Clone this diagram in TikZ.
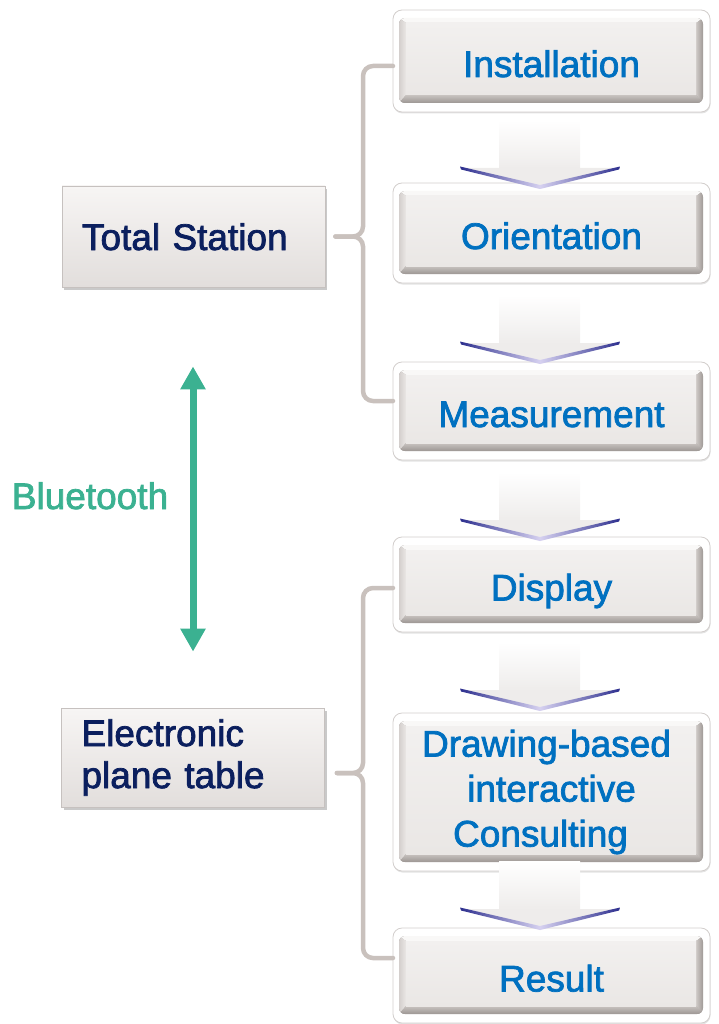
\documentclass[tikz,border=0pt]{standalone}
\usepackage{fontspec}
\setmainfont{Liberation Sans}[FakeBold=2]
\usetikzlibrary{arrows.meta,shadows,calc}
\definecolor{rtext}{HTML}{0070C0}
\definecolor{ltext}{HTML}{0B1F5E}
\definecolor{btgreen}{HTML}{3BB191}
\definecolor{brkgray}{HTML}{C9C1BD}
\definecolor{framegray}{HTML}{D2CECC}
\definecolor{lframe}{HTML}{C6C1BF}
\definecolor{ltop}{HTML}{F7F5F4}
\definecolor{lbot}{HTML}{E2DEDC}
\definecolor{bevTop}{HTML}{F9F8F7}
\definecolor{bevL1}{HTML}{D4CFCD}
\definecolor{bevL2}{HTML}{EAE7E5}
\definecolor{bevR1}{HTML}{CFCAC7}
\definecolor{bevR2}{HTML}{9F9996}
\definecolor{bevB1}{HTML}{C8C3C0}
\definecolor{bevB2}{HTML}{9C9693}
\definecolor{faceTop}{HTML}{F2F0EF}
\definecolor{faceBot}{HTML}{EAE7E5}
\definecolor{chevGray}{HTML}{EEECEB}
\definecolor{chevBlue}{HTML}{2D2F8E}
\definecolor{chevLav}{HTML}{D6D1F0}
\newcommand\panelbevel{%
  \coordinate (IA) at ($(path picture bounding box.south west)+(6pt,9pt)$);
  \coordinate (IB) at ($(path picture bounding box.north east)+(-7pt,-8pt)$);
  \coordinate (FA) at ($(IA)+(7pt,8pt)$);
  \coordinate (FB) at ($(IB)+(-7pt,-5pt)$);
  \begin{scope}[sharp corners]
    \clip[rounded corners=6pt] (IA) rectangle (IB);
    \fill[bevB2] (IA) rectangle (IB);
    \fill[bevTop] (IA |- IB) -- (IB) -- (FB) -- (FA |- FB) -- cycle;
    \shade[left color=bevL1, right color=bevL2] (IA) -- (IA |- IB) -- (FA |- FB) -- (FA) -- cycle;
    \shade[left color=bevR1, right color=bevR2] (IA -| IB) -- (IB) -- (FB) -- (FA -| FB) -- cycle;
    \shade[top color=bevB1, bottom color=bevB2] (IA) -- (IA -| IB) -- (FA -| FB) -- (FA) -- cycle;
    \shade[top color=faceTop, bottom color=faceBot] (FA) rectangle (FB);
  \end{scope}%
}
\tikzset{
  btn/.style={rectangle, rounded corners=9pt, draw=framegray, line width=0.8pt, fill=white,
    minimum width=317pt, inner sep=0pt, text=rtext, font=\fontsize{37}{42}\selectfont,
    drop shadow={shadow xshift=0.5pt, shadow yshift=-1.5pt, opacity=0.22},
    path picture={\panelbevel}},
  oneline/.style={text height=32pt, text depth=0pt},
  lbox/.style={rectangle, draw=lframe, line width=0.8pt, top color=ltop, bottom color=lbot,
    text width=223pt, align=left, inner xsep=20pt, inner ysep=0pt, text=ltext,
    font=\fontsize{37}{42}\selectfont,
    drop shadow={shadow xshift=2pt, shadow yshift=-3pt, opacity=0.3, fill=black!70}},
  brk/.style={draw=brkgray, line width=4.5pt, line cap=round, rounded corners=10pt},
  btarrow/.style={draw=btgreen, line width=7pt,
    {Triangle[width=24pt,length=23pt]}-{Triangle[width=24pt,length=23pt]}},
}
\begin{document}
\begin{tikzpicture}[x=1pt,y=-1pt]
\useasboundingbox (0,0) rectangle (718,1024);
% right column boxes
\node[btn, oneline, minimum height=102pt] (inst) at (551.5,61) {Installation};
\node[btn, oneline, minimum height=100pt] (orient) at (551.5,233) {Orientation};
\node[btn, oneline, minimum height=98pt] (meas) at (551.5,411) {Measurement};
\node[btn, oneline, minimum height=95pt] (disp) at (551.5,584.5) {Display};
\node[btn, minimum height=158pt, align=center, font=\fontsize{37}{45}\selectfont] (drw) at (551.5,792) {Drawing-based\hspace*{10pt}\\interactive\hspace*{9pt}\\Consulting\hspace*{22pt}};
\node[btn, oneline, minimum height=95pt] (res) at (551.5,975.5) {Result};
% left boxes
\node[lbox, minimum height=101pt, text height=27pt, text depth=0pt] (ts) at (193.5,236.5) {Total Station};
\node[lbox, minimum height=99pt] (el) at (193,757.5) {Electronic\\plane table};
% chevrons
\foreach \w in {168,343,520,690,909}{
  \shade[top color=white, bottom color=chevGray] (499,\w-48) rectangle (580,\w+0.5);
  \fill[chevGray] (460,\w) -- (620,\w) -- (540,\w+20) -- cycle;
  \shade[left color=chevBlue, right color=chevLav] (460,\w-1.5) -- (540,\w+17) -- (540,\w+21) -- (461,\w+1.5) -- cycle;
  \shade[left color=chevLav, right color=chevBlue] (620,\w-1.5) -- (540,\w+17) -- (540,\w+21) -- (619,\w+1.5) -- cycle;
}
% brackets
\coordinate (b1) at (393,66);
\coordinate (b3) at (393,401);
\coordinate (bx1) at (363,236.5);
\coordinate (b4) at (393,588);
\coordinate (b6) at (393,958);
\coordinate (bx2) at (363,773);
\draw[brk] (b1) -| (bx1) -- ([xshift=10pt]ts.east);
\draw[brk] (b3) -| (bx1) -- ([xshift=10pt]ts.east);
\draw[brk] (b4) -| (bx2) -- ([xshift=12pt,yshift=-15.5pt]el.east);
\draw[brk] (b6) -| (bx2) -- ([xshift=12pt,yshift=-15.5pt]el.east);
% bluetooth
\draw[btarrow] ([xshift=-0.5pt,yshift=-79pt]ts.south) -- ([yshift=56pt]el.north);
\node[text=btgreen, font=\fontsize{37}{42}\selectfont, text height=27pt, text depth=0pt, inner sep=0pt] (bt) at (90,495.5) {Bluetooth};
\end{tikzpicture}
\end{document}
